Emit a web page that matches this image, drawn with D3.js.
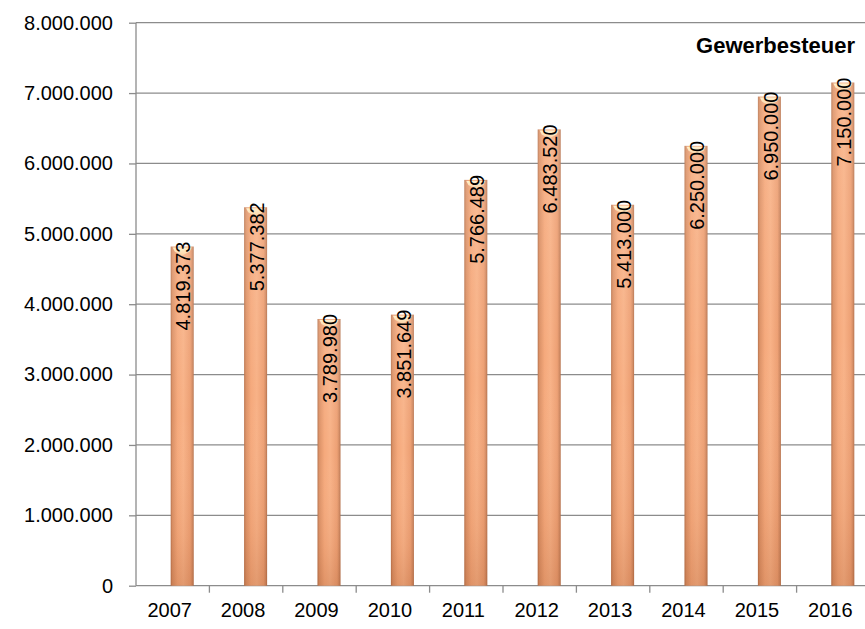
<!DOCTYPE html>
<html><head><meta charset="utf-8">
<script src="https://cdn.jsdelivr.net/npm/d3@7"></script>
<style>
html,body{margin:0;padding:0;background:#fff;overflow:hidden}
text{font-family:"Liberation Sans",Arial,sans-serif}
</style></head>
<body><svg id="c" width="865" height="629"></svg>
<script>
const years = ["2007","2008","2009","2010","2011","2012","2013","2014","2015","2016"];
const values = [4819373,5377382,3789980,3851649,5766489,6483520,5413000,6250000,6950000,7150000];
const yTicks = [0,1000000,2000000,3000000,4000000,5000000,6000000,7000000,8000000];
const title = "Gewerbesteuer";

(function(){
const svg = d3.select("#c");
const left = 136, plotTop = 22.7, plotBottom = 585.7, bandW = 73.4;
const x = d3.scaleBand().domain(years).range([left, left + bandW*years.length]).padding(0);
const y = d3.scaleLinear().domain([0, 8000000]).range([plotBottom, plotTop]);
const fmt = v => d3.format(",")(v).replace(/,/g, ".");

const defs = svg.append("defs");
const gh = defs.append("linearGradient").attr("id","gh").attr("x1","0").attr("x2","1").attr("y1","0").attr("y2","0");
[[0,"#b9754f"],[0.08,"#dc9267"],[0.3,"#f5a97c"],[0.55,"#f8b287"],[0.85,"#eda074"],[0.94,"#d38c64"],[1,"#b5714c"]].forEach(s=>gh.append("stop").attr("offset",s[0]).attr("stop-color",s[1]));
const gv = defs.append("linearGradient").attr("id","gv").attr("x1","0").attr("x2","0").attr("y1","0").attr("y2","1");
[[0,"#ffffff",0.12],[0.5,"#ffffff",0],[0.85,"#a04a20",0.08],[1,"#8a3a10",0.2]].forEach(s=>gv.append("stop").attr("offset",s[0]).attr("stop-color",s[1]).attr("stop-opacity",s[2]));
const gc = defs.append("linearGradient").attr("id","gc").attr("x1","0").attr("x2","0").attr("y1","0").attr("y2","1");
[[0,"#fff1cf"],[1,"#fbd3a6"]].forEach(s=>gc.append("stop").attr("offset",s[0]).attr("stop-color",s[1]));

// gridlines
svg.append("g").selectAll("line").data(yTicks.filter(d=>d>0)).join("line")
  .attr("x1", left).attr("x2", 865).attr("y1", d=>y(d)).attr("y2", d=>y(d))
  .attr("stroke","#8c8c8c").attr("stroke-width",1.3);

// y axis
const ya = svg.append("g").attr("transform",`translate(${left},0)`)
  .call(d3.axisLeft(y).tickValues(yTicks).tickFormat(fmt).tickSize(7).tickPadding(16));
ya.select(".domain").attr("stroke","#8c8c8c").attr("stroke-width",1.3).attr("d",`M0,${plotTop}V${plotBottom}`);
ya.selectAll(".tick line").attr("stroke","#8c8c8c").attr("stroke-width",1.3);
ya.selectAll(".tick text").attr("font-size",20).attr("fill","#000").attr("font-family","Liberation Sans, Arial, sans-serif");

// x axis
const xa = svg.append("g").attr("transform",`translate(0,${plotBottom})`)
  .call(d3.axisBottom(x).tickSize(0).tickPadding(17));
xa.select(".domain").attr("stroke","#8c8c8c").attr("stroke-width",1.3).attr("d",`M${left},0H865`);
xa.selectAll(".tick text").attr("font-size",20).attr("fill","#000").attr("font-family","Liberation Sans, Arial, sans-serif").attr("dx",-3);
// boundary ticks
svg.append("g").selectAll("line").data(years.slice(1)).join("line")
  .attr("x1", d=>x(d)).attr("x2", d=>x(d)).attr("y1", plotBottom).attr("y2", plotBottom+7)
  .attr("stroke","#8c8c8c").attr("stroke-width",1.3);

// bars
const bw = 23, off = 9.5;
const cx = d => x(d) + x.bandwidth()/2 + off;
const bars = svg.append("g").selectAll("g").data(years.map((d,i)=>({yr:d,v:values[i]}))).join("g");
bars.append("rect").attr("x", d=>cx(d.yr)-bw/2).attr("width", bw)
  .attr("y", d=>y(d.v)).attr("height", d=>plotBottom - y(d.v)).attr("fill","url(#gh)");
bars.append("rect").attr("x", d=>cx(d.yr)-bw/2).attr("width", bw)
  .attr("y", d=>y(d.v)).attr("height", d=>plotBottom - y(d.v)).attr("fill","url(#gv)");
bars.append("path").attr("d", d=>{
    const x0=cx(d.yr)-bw/2+2, x1=cx(d.yr)+bw/2-2, t=y(d.v)+1, c=cx(d.yr);
    return `M${x0},${t}L${x1},${t}L${x1-2},${t+4}L${c},${t+8}L${x0+2},${t+4}Z`;
  }).attr("fill","url(#gc)");

// labels
bars.append("text")
  .attr("transform", d=>`translate(${cx(d.yr)+1},${y(d.v)-5}) rotate(-90)`)
  .attr("text-anchor","end").attr("dy","0.36em")
  .attr("font-size",20).attr("fill","#000")
  .text(d=>fmt(d.v));

// title
svg.append("text").attr("x", 855).attr("y", 53).attr("text-anchor","end")
  .attr("font-size",22).attr("font-weight","bold").attr("fill","#000").text(title);
})();
</script></body></html>
